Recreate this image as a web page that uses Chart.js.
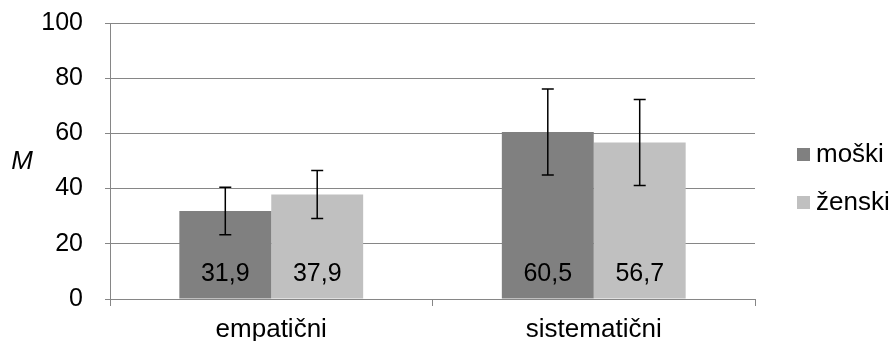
<!DOCTYPE html>
<html>
<head>
<meta charset="utf-8">
<script src="https://cdn.jsdelivr.net/npm/chart.js@4.4.1/dist/chart.umd.min.js"></script>
<style>
  html, body { margin: 0; padding: 0; background: #fff; }
  #wrap { width: 893px; height: 341px; }
</style>
</head>
<body>
<div id="wrap"><canvas id="grafikon" width="893" height="341"></canvas></div>
<script>
// podatki
const kategorije = ["empatični", "sistematični"];
const moski = [31.9, 60.5];
const zenski = [37.9, 56.7];
const moskiNapaka = [8.6, 15.6];
const zenskiNapaka = [8.7, 15.6];
const yOznake = [0, 20, 40, 60, 80, 100];

const siva = '#868686';
const pisava = 'Liberation Sans, Arial, sans-serif';

// napake (error bars)
const napakePlugin = {
  id: 'napake',
  afterDatasetsDraw(chart) {
    const ctx = chart.ctx;
    const y = chart.scales.y;
    ctx.save();
    ctx.strokeStyle = '#000';
    ctx.lineWidth = 1.5;
    chart.data.datasets.forEach((ds, di) => {
      const meta = chart.getDatasetMeta(di);
      meta.data.forEach((bar, i) => {
        const top = y.getPixelForValue(ds.data[i] + ds.napake[i]);
        const bot = y.getPixelForValue(ds.data[i] - ds.napake[i]);
        ctx.beginPath();
        ctx.moveTo(bar.x, top); ctx.lineTo(bar.x, bot);
        ctx.moveTo(bar.x - 6, top); ctx.lineTo(bar.x + 6, top);
        ctx.moveTo(bar.x - 6, bot); ctx.lineTo(bar.x + 6, bot);
        ctx.stroke();
      });
    });
    ctx.restore();
  }
};

// vrednosti v stolpcih, legenda, oznaka M
const oznakePlugin = {
  id: 'oznake',
  afterDraw(chart) {
    const ctx = chart.ctx;
    const y = chart.scales.y;
    ctx.save();
    ctx.fillStyle = '#000';
    ctx.textAlign = 'center';
    ctx.textBaseline = 'middle';
    ctx.font = '25px ' + pisava;
    chart.data.datasets.forEach((ds, di) => {
      chart.getDatasetMeta(di).data.forEach((bar, i) => {
        ctx.fillText(ds.data[i].toFixed(1).replace('.', ','), bar.x, y.getPixelForValue(0) - 25);
      });
    });

    ctx.font = 'italic 26px ' + pisava;
    ctx.fillText('M', 22, 162);

    ctx.font = '26px ' + pisava;
    ctx.textAlign = 'left';
    chart.data.datasets.forEach((ds, di) => {
      const ly = 155 + di * 48;
      ctx.fillStyle = ds.backgroundColor;
      ctx.fillRect(797, ly - 7, 13, 13);
      ctx.fillStyle = '#000';
      ctx.fillText(ds.label, 816, ly);
    });
    ctx.restore();
  }
};

new Chart(document.getElementById('grafikon'), {
  type: 'bar',
  data: {
    labels: kategorije,
    datasets: [
      { label: 'moški', data: moski, napake: moskiNapaka, backgroundColor: '#808080' },
      { label: 'ženski', data: zenski, napake: zenskiNapaka, backgroundColor: '#c0c0c0' }
    ]
  },
  options: {
    responsive: false,
    animation: false,
    layout: { padding: { top: 23, right: 138, left: 0, bottom: 0 } },
    datasets: { bar: { categoryPercentage: 0.57, barPercentage: 1.0 } },
    plugins: { legend: { display: false }, tooltip: { enabled: false } },
    scales: {
      x: {
        afterFit: s => { s.height = 42; },
        grid: { drawOnChartArea: false, offset: true, tickLength: 7, color: siva },
        border: { color: siva },
        ticks: { color: '#000', font: { family: pisava, size: 26 }, padding: 8 }
      },
      y: {
        min: 0,
        max: 100,
        // fiksna širina osi, brez dodatnega odmika zgoraj/spodaj
        afterFit: s => { s.width = 110; s.paddingTop = 0; s.paddingBottom = 0; },
        afterBuildTicks: s => { s.ticks = yOznake.map(v => ({ value: v })); },
        grid: { color: siva, tickLength: 5 },
        border: { color: siva },
        ticks: { color: '#000', font: { family: pisava, size: 25 }, padding: 22 }
      }
    }
  },
  plugins: [napakePlugin, oznakePlugin]
});
</script>
</body>
</html>
